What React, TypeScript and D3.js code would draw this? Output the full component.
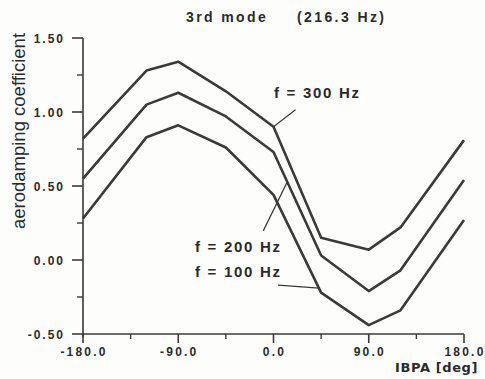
import React from "react";
import * as d3 from "d3";

const ibpa = [-180, -120, -90, -45, 0, 45, 90, 120, 180];
const f300 = [0.82, 1.28, 1.34, 1.14, 0.9, 0.15, 0.07, 0.22, 0.81];
const f200 = [0.55, 1.05, 1.13, 0.97, 0.73, 0.03, -0.21, -0.07, 0.54];
const f100 = [0.28, 0.83, 0.91, 0.76, 0.44, -0.22, -0.44, -0.34, 0.27];
const seriesNames = ["f = 300 Hz", "f = 200 Hz", "f = 100 Hz"];
const xTickValues = [-180, -90, 0, 90, 180];
const xMinorTicks = [-135, -45, 45, 135];
const yTickValues = [1.5, 1.0, 0.5, 0.0, -0.5];
const yMinorTicks = [1.25, 0.75, 0.25, -0.25];
const titleParts = ["3rd mode", "(216.3 Hz)"];
const xTitle = "IBPA [deg]";
const yTitle = "aerodamping coefficient";

const W = 485;
const H = 379;
const X0 = 83;
const X1 = 464;
const Y0 = 334;
const Y1 = 38;

const INK = "#3a3a3a";
const TXT = "#2a2a2a";

export default function App() {
  const x = d3.scaleLinear().domain([-180, 180]).range([X0, X1]);
  const y = d3.scaleLinear().domain([-0.5, 1.5]).range([Y0, Y1]);
  const line = d3
    .line<number>()
    .x((_, i) => x(ibpa[i]))
    .y((d) => y(d));

  const series = [f300, f200, f100];
  const interp = (vals: number[], deg: number) => {
    const i = d3.bisectRight(ibpa, deg) - 1;
    const t = (deg - ibpa[i]) / (ibpa[i + 1] - ibpa[i]);
    return vals[i] + t * (vals[i + 1] - vals[i]);
  };

  // annotation leaders: anchor on series (deg), offset of leader start, label position
  const annos = [
    { vals: f300, deg: 0, dx: 22, dy: -17, lx: 274, ly: 98 },
    { vals: f200, deg: 13, dx: -24, dy: 49, lx: 195, ly: 252 },
    { vals: f100, deg: 43, dx: -41, dy: -3, lx: 195, ly: 277 },
  ];

  const numFont = "'Liberation Sans', Arial, sans-serif";

  return (
    <svg
      width={W}
      height={H}
      style={{ position: "absolute", left: 0, top: 0, background: "#fdfdfc" }}
    >
      <rect x={0} y={0} width={W} height={H} fill="#fdfdfc" />
      {/* title */}
      <text x={186} y={22} fontFamily={numFont} fontWeight="bold" fontSize={14} letterSpacing={2.4} fill={TXT}>
        {titleParts[0]}
      </text>
      <text x={297} y={22} fontFamily={numFont} fontWeight="bold" fontSize={14} letterSpacing={2.4} fill={TXT}>
        {titleParts[1]}
      </text>

      {/* y axis */}
      <line x1={X0} x2={X0} y1={Y1} y2={Y0 + 3} stroke={INK} strokeWidth={1.6} />
      {yTickValues.map((v) => (
        <g key={"yt" + v}>
          <line x1={X0 - 11} x2={X0} y1={y(v)} y2={y(v)} stroke={INK} strokeWidth={1.6} />
          <text
            x={X0 - 18}
            y={y(v) + 4.5}
            textAnchor="end"
            fontFamily={numFont}
            fontWeight="bold"
            fontSize={12}
            letterSpacing={2}
            fill={TXT}
          >
            {v.toFixed(2)}
          </text>
        </g>
      ))}
      {yMinorTicks.map((v) => (
        <line key={"ym" + v} x1={X0 - 6} x2={X0} y1={y(v)} y2={y(v)} stroke={INK} strokeWidth={1.4} />
      ))}
      <text
        transform={`translate(25, 131) rotate(-90)`}
        textAnchor="middle"
        fontFamily={numFont}
        fontSize={18.5}
        fill={TXT}
      >
        {yTitle}
      </text>

      {/* x axis */}
      <line x1={X0} x2={X1} y1={Y0} y2={Y0} stroke={INK} strokeWidth={1.6} />
      {xTickValues.map((v) => (
        <g key={"xt" + v}>
          <line x1={x(v)} x2={x(v)} y1={Y0} y2={Y0 + 9} stroke={INK} strokeWidth={1.6} />
          <text
            x={x(v) + 1}
            y={356}
            textAnchor="middle"
            fontFamily={numFont}
            fontWeight="bold"
            fontSize={12}
            letterSpacing={2.2}
            fill={TXT}
          >
            {v.toFixed(1)}
          </text>
        </g>
      ))}
      {xMinorTicks.map((v) => (
        <line key={"xm" + v} x1={x(v)} x2={x(v)} y1={Y0} y2={Y0 + 5} stroke={INK} strokeWidth={1.4} />
      ))}
      <text
        x={478}
        y={372}
        textAnchor="end"
        fontFamily="'DejaVu Sans', sans-serif"
        fontWeight="bold"
        fontSize={13}
        letterSpacing={0.6}
        fill={TXT}
      >
        {xTitle}
      </text>

      {/* series */}
      {series.map((vals, i) => (
        <path
          key={"s" + i}
          d={line(vals) || ""}
          fill="none"
          stroke={INK}
          strokeWidth={2.6}
          strokeLinejoin="round"
        />
      ))}

      {/* annotations */}
      {annos.map((a, i) => {
        const ex = x(a.deg);
        const ey = y(interp(a.vals, a.deg));
        return (
          <g key={"a" + i}>
            <line x1={ex + a.dx} y1={ey + a.dy} x2={ex} y2={ey} stroke={INK} strokeWidth={1.2} />
            <text
              x={a.lx}
              y={a.ly}
              fontFamily={numFont}
              fontWeight="bold"
              fontSize={15}
              letterSpacing={1.7}
              fill={TXT}
            >
              {seriesNames[i]}
            </text>
          </g>
        );
      })}
    </svg>
  );
}
